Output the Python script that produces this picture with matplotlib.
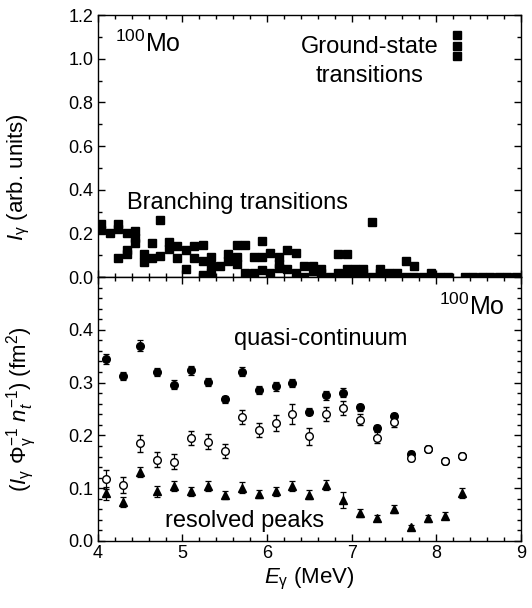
import numpy as np
import matplotlib
matplotlib.use("Agg")
import matplotlib.pyplot as plt
from matplotlib.ticker import MultipleLocator

plt.rcParams['font.family'] = ['Liberation Sans', 'DejaVu Sans']
plt.rcParams['mathtext.fontset'] = 'custom'
plt.rcParams['mathtext.rm'] = 'Liberation Sans'
plt.rcParams['mathtext.it'] = 'Liberation Sans:italic'
plt.rcParams['mathtext.bf'] = 'Liberation Sans:bold'

# ---- top panel: individual transitions (grouped by energy column) ----
branch_cols = [
    (4.04, [0.245, 0.215]),
    (4.14, [0.20]),
    (4.24, [0.245, 0.22, 0.087]),
    (4.34, [0.20, 0.125, 0.105]),
    (4.44, [0.21, 0.18, 0.155]),
    (4.54, [0.105, 0.07]),
    (4.64, [0.155, 0.087]),
    (4.74, [0.262, 0.098]),
    (4.84, [0.16, 0.13]),
    (4.94, [0.14, 0.087]),
    (5.04, [0.125, 0.037]),
    (5.14, [0.14, 0.087]),
    (5.24, [0.145, 0.072, 0.008]),
    (5.34, [0.09, 0.05, 0.02]),
    (5.44, [0.05]),
    (5.54, [0.105, 0.075]),
    (5.64, [0.145, 0.09, 0.06]),
    (5.74, [0.145, 0.018]),
    (5.84, [0.09, 0.018]),
    (5.94, [0.165, 0.09, 0.034]),
    (6.04, [0.11, 0.018]),
    (6.14, [0.09, 0.06, 0.04]),
    (6.24, [0.125, 0.037]),
    (6.34, [0.108, 0.018]),
    (6.44, [0.05, 0.0]),
    (6.54, [0.05, 0.026]),
    (6.64, [0.037, 0.018]),
    (6.74, [0.0]),
    (6.84, [0.105, 0.018]),
    (6.94, [0.105, 0.037, 0.018]),
    (7.04, [0.037, 0.018]),
    (7.14, [0.037, 0.018]),
    (7.24, [0.25, 0.0]),
    (7.34, [0.037, 0.018]),
    (7.44, [0.018]),
    (7.54, [0.018]),
    (7.64, [0.072, 0.0]),
    (7.74, [0.052, 0.0]),
    (7.84, [0.0]),
    (7.94, [0.018]),
    (8.04, [0.0]),
    (8.14, [0.0]),
    (8.34, [0.0]),
    (8.44, [0.0]),
    (8.54, [0.0]),
    (8.64, [0.0]),
    (8.74, [0.0]),
    (8.84, [0.0]),
    (8.94, [0.0]),
]
branch_x = [c[0] for c in branch_cols for _ in c[1]]
branch_y = [v for c in branch_cols for v in c[1]]

gs_x = [8.24, 8.24, 8.24]
gs_y = [1.11, 1.06, 1.01]

# ---- bottom panel ----
energy = [4.1, 4.3, 4.5, 4.7, 4.9, 5.1, 5.3, 5.5, 5.7, 5.9, 6.1,
          6.3, 6.5, 6.7, 6.9, 7.1, 7.3, 7.5, 7.7, 7.9, 8.1, 8.3]
total = [0.345, 0.312, 0.370, 0.320, 0.296, 0.323, 0.301, 0.268, 0.321, 0.286, 0.293,
         0.299, 0.245, 0.276, 0.281, 0.253, 0.214, 0.237, 0.165, 0.175, 0.151, 0.161]
total_err = [0.0095, 0.008, 0.01, 0.008, 0.008, 0.008, 0.008, 0.007, 0.009, 0.008, 0.008,
             0.008, 0.006, 0.009, 0.009, 0.007, 0.006, 0.006, 0.005, 0.005, 0.004, 0.004]
qc = [0.117, 0.106, 0.185, 0.154, 0.150, 0.195, 0.188, 0.170, 0.235, 0.210, 0.224,
      0.240, 0.198, 0.240, 0.252, 0.230, 0.196, 0.225, 0.158, 0.174, 0.151, 0.161]
qc_err = [0.018, 0.016, 0.016, 0.014, 0.014, 0.013, 0.014, 0.013, 0.014, 0.013, 0.015,
          0.019, 0.016, 0.013, 0.014, 0.011, 0.011, 0.010, 0.006, 0.006, 0.005, 0.005]
res = [0.090, 0.074, 0.131, 0.094, 0.104, 0.094, 0.104, 0.087, 0.101, 0.089, 0.094,
       0.104, 0.088, 0.106, 0.078, 0.053, 0.043, 0.061, 0.026, 0.043, 0.048, 0.091]
res_err = [0.012, 0.009, 0.01, 0.01, 0.01, 0.008, 0.01, 0.008, 0.01, 0.008, 0.008,
           0.01, 0.009, 0.01, 0.015, 0.008, 0.006, 0.008, 0.005, 0.007, 0.006, 0.01]

fig = plt.figure(figsize=(5.32, 6.08), dpi=100)
ax1 = fig.add_axes([0.184, 0.5444, 0.795, 0.4309])
ax2 = fig.add_axes([0.184, 0.1102, 0.795, 0.4342])


def style(ax):
    for s in ax.spines.values():
        s.set_linewidth(1.0)
    ax.tick_params(which='both', direction='in', top=True, right=True,
                   labelsize=13, width=1.0, pad=3)
    ax.tick_params(which='major', length=5)
    ax.tick_params(which='minor', length=3)
    ax.set_xlim(4, 9)
    ax.xaxis.set_major_locator(MultipleLocator(1))
    ax.xaxis.set_minor_locator(MultipleLocator(0.2))


# top
style(ax1)
ax1.plot(branch_x, branch_y, 's', color='black', ms=5.5)
ax1.plot(gs_x, gs_y, 's', color='black', ms=5.5)
ax1.set_ylim(0, 1.2)
ax1.yaxis.set_major_locator(MultipleLocator(0.2))
ax1.yaxis.set_minor_locator(MultipleLocator(0.1))
ax1.tick_params(labelbottom=False)
ax1.set_ylabel(r'$I_{\mathrm{\gamma}}$ (arb. units)', fontsize=16)
ax1.yaxis.set_label_coords(-0.155, 0.38)
ax1.text(0.04, 0.858, r'$^{100}$Mo', transform=ax1.transAxes, fontsize=18,
         va='baseline', ha='left')
ax1.text(0.643, 0.855, 'Ground-state', transform=ax1.transAxes,
         fontsize=17, va='baseline', ha='center')
ax1.text(0.643, 0.744, 'transitions', transform=ax1.transAxes,
         fontsize=17, va='baseline', ha='center')
ax1.text(4.35, 0.312, 'Branching transitions', fontsize=17, va='baseline')

# bottom
style(ax2)
ax2.errorbar(energy, total, yerr=total_err, fmt='o', color='black', ms=5.5,
             elinewidth=0.9, capsize=2, capthick=0.9, zorder=3)
ax2.errorbar(energy, qc, yerr=qc_err, fmt='o', color='black', mfc='white', mec='black',
             ms=5.5, mew=1.0, elinewidth=0.9, capsize=2, capthick=0.9, zorder=4)
ax2.errorbar(energy, res, yerr=res_err, fmt='^', color='black', ms=6,
             elinewidth=0.9, capsize=2, capthick=0.9, zorder=3)
ax2.set_ylim(0, 0.5)
ax2.set_yticks([0.0, 0.1, 0.2, 0.3, 0.4, 0.5])
ax2.set_yticklabels(['0.0', '0.1', '0.2', '0.3', '0.4', ''])
ax2.yaxis.set_minor_locator(MultipleLocator(0.02))
ax2.set_xticks([4, 5, 6, 7, 8, 9])
ax2.set_xticklabels(['4', '5', '6', '7', '8', '9'])
ax2.set_xlabel(r'$E_{\mathrm{\gamma}}$ (MeV)', fontsize=16, labelpad=3)
ax2.set_ylabel(r'$(I_{\mathrm{\gamma}}\ \Phi_{\mathrm{\gamma}}^{-1}\ n_t^{-1})$ (fm$^2$)',
               fontsize=16)
ax2.yaxis.set_label_coords(-0.14, 0.5)
ax2.text(8.81, 0.428, r'$^{100}$Mo', fontsize=18, va='baseline', ha='right')
ax2.text(6.63, 0.371, 'quasi-continuum', fontsize=17, va='baseline', ha='center')
ax2.text(5.73, 0.027, 'resolved peaks', fontsize=17, va='baseline', ha='center')

fig.savefig('out.png', dpi=100)
